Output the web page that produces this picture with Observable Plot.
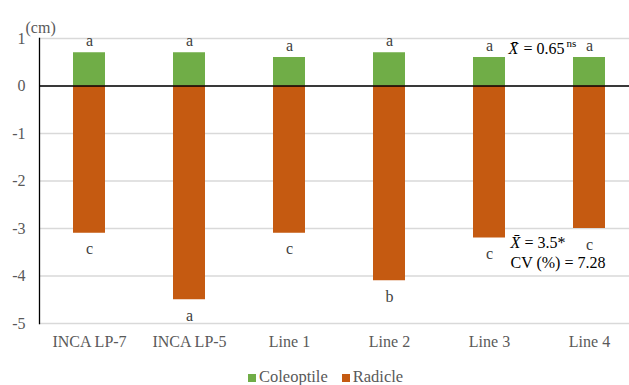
<!DOCTYPE html>
<html>
<head>
<meta charset="utf-8">
<script src="https://cdn.jsdelivr.net/npm/d3@7"></script>
<script src="https://cdn.jsdelivr.net/npm/@observablehq/plot@0.6"></script>
<style>
  body { margin: 0; background: #fff; font-family: "Liberation Serif", "Times New Roman", serif; }
  #chart svg { display: block; }
  #legend { height: 20px; line-height: 22px; font-size: 16.5px; color: #595959; padding-left: 248px; white-space: nowrap; font-family: "Liberation Serif", serif; }
  #legend .sw { display: inline-block; width: 8px; height: 8px; margin-right: 3px; vertical-align: 0px; }
  #legend .item { margin-right: 14px; }
</style>
</head>
<body>
<div id="chart"></div>
<div id="legend"></div>
<script>
const categories = ["INCA LP-7", "INCA LP-5", "Line 1", "Line 2", "Line 3", "Line 4"];
const coleoptile = [0.7, 0.7, 0.6, 0.7, 0.6, 0.6];
const radicle = [-3.1, -4.5, -3.1, -4.1, -3.2, -3.0];
const coleoptileLetters = ["a", "a", "a", "a", "a", "a"];
const radicleLetters = ["c", "a", "c", "b", "c", "c"];
const yTicks = [-5, -4, -3, -2, -1, 0, 1];
const seriesNames = ["Coleoptile", "Radicle"];
const seriesColors = ["#70ad47", "#c55a11"];

const data = categories.map((c, i) => ({
  cat: c, col: coleoptile[i], rad: radicle[i],
  colL: coleoptileLetters[i], radL: radicleLetters[i]
}));

const ink = "#595959";
const serif = "Liberation Serif, Times New Roman, serif";
const plot = Plot.plot({
  width: 629,
  height: 366,
  marginLeft: 39,
  marginRight: 0,
  marginTop: 38,
  marginBottom: 43,
  style: { fontFamily: serif, fontSize: "16px", background: "white" },
  x: { domain: categories, range: [39, 639], paddingInner: 0.68, paddingOuter: 0.34, label: null },
  y: { domain: [-5, 1], label: null },
  marks: [
    Plot.ruleY(yTicks, { stroke: "#d9d9d9", strokeWidth: 1.5 }),
    Plot.barY(data, { x: "cat", y: "col", fill: seriesColors[0] }),
    Plot.barY(data, { x: "cat", y: "rad", fill: seriesColors[1] }),
    Plot.ruleY([0], { stroke: "black", strokeWidth: 1.3 }),
    Plot.frame({ anchor: "left", stroke: "black", strokeWidth: 1.3 }),
    Plot.axisY({ ticks: yTicks, tickSize: 0, tickPadding: 14, tickFormat: d => String(d), fontSize: 16, fontFamily: serif, color: ink, label: null }),
    Plot.axisX({ tickSize: 0, tickPadding: 12, fontSize: 16, fontFamily: serif, color: ink, label: null }),
    Plot.text(["(cm)"], { frameAnchor: "top-left", dx: -14, dy: -17, textAnchor: "start", fontSize: 16, fontFamily: serif, fill: ink }),
    Plot.text(data, { x: "cat", y: "col", text: "colL", dy: -12, fontSize: 16, fontFamily: serif, fill: "#404040" }),
    Plot.text(data, { x: "cat", y: "rad", text: "radL", dy: 16, fontSize: 16, fontFamily: serif, fill: "#404040" }),
    // annotations
    Plot.text(["X\u0304"], { x: () => "Line 3", y: () => 0.78, dx: 19, textAnchor: "start", fontSize: 16, fontFamily: serif, fontStyle: "italic", fill: "black" }),
    Plot.text(["= 0.65"], { x: () => "Line 3", y: () => 0.78, dx: 34, textAnchor: "start", fontSize: 16, fontFamily: serif, fill: "black" }),
    Plot.text(["ns"], { x: () => "Line 3", y: () => 0.78, dx: 77, dy: -5, textAnchor: "start", fontSize: 11, fontFamily: serif, fill: "black" }),
    Plot.text(["X\u0304"], { x: () => "Line 3", y: () => -3.3, dx: 21, textAnchor: "start", fontSize: 16, fontFamily: serif, fontStyle: "italic", fill: "black" }),
    Plot.text(["= 3.5*"], { x: () => "Line 3", y: () => -3.3, dx: 35, textAnchor: "start", fontSize: 16, fontFamily: serif, fill: "black" }),
    Plot.text(["CV (%) = 7.28"], { x: () => "Line 3", y: () => -3.72, dx: 21, textAnchor: "start", fontSize: 16, fontFamily: serif, fill: "black" })
  ]
});
document.getElementById("chart").appendChild(plot);

const legend = d3.select("#legend");
seriesNames.forEach((n, i) => {
  const it = legend.append("span").attr("class", "item");
  it.append("span").attr("class", "sw").style("background", seriesColors[i]);
  it.append("span").text(n);
});
</script>
</body>
</html>
